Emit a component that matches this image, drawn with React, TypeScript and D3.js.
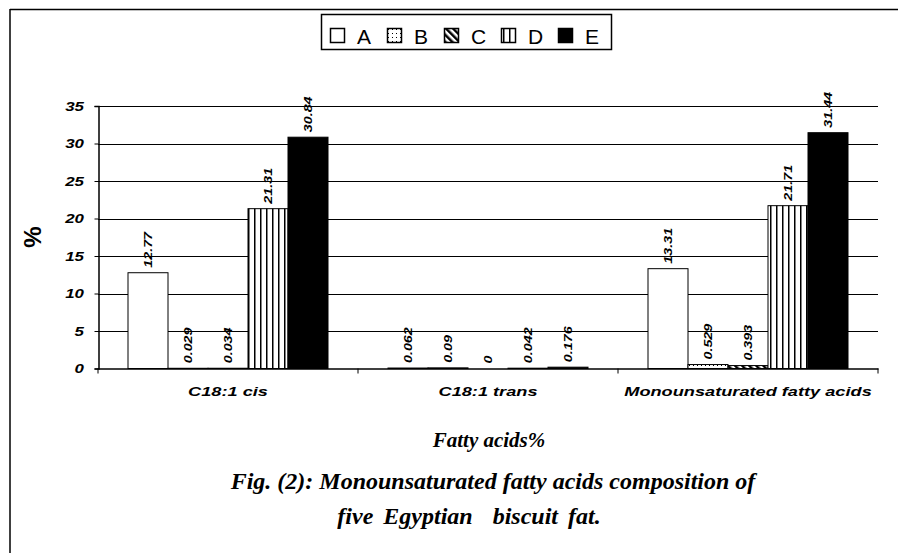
import React, { useEffect, useRef } from "react";
import * as d3 from "d3";

const categories = ["C18:1 cis", "C18:1 trans", "Monounsaturated fatty acids"];
const seriesNames = ["A", "B", "C", "D", "E"];
const valuesA = [12.77, 0.062, 13.31];
const valuesB = [0.029, 0.09, 0.529];
const valuesC = [0.034, 0, 0.393];
const valuesD = [21.31, 0.042, 21.71];
const valuesE = [30.84, 0.176, 31.44];
const labelsA = ["12.77", "0.062", "13.31"];
const labelsB = ["0.029", "0.09", "0.529"];
const labelsC = ["0.034", "0", "0.393"];
const labelsD = ["21.31", "0.042", "21.71"];
const labelsE = ["30.84", "0.176", "31.44"];
const yTicks = [0, 5, 10, 15, 20, 25, 30, 35];

const fills = ["#fff", "url(#patB)", "url(#patC)", "url(#patD)", "#000"];
const sans = "Arial, 'Liberation Sans', sans-serif";
const serif = "'Times New Roman', 'Liberation Serif', serif";

export default function App() {
  const ref = useRef<SVGSVGElement>(null);

  useEffect(() => {
    if (!ref.current) return;
    const svg = d3.select(ref.current);
    svg.selectAll("*").remove();

    const allValues = [valuesA, valuesB, valuesC, valuesD, valuesE];
    const allLabels = [labelsA, labelsB, labelsC, labelsD, labelsE];

    const defs = svg.append("defs");
    const pB = defs
      .append("pattern")
      .attr("id", "patB")
      .attr("width", 4)
      .attr("height", 4)
      .attr("patternUnits", "userSpaceOnUse");
    pB.append("rect").attr("width", 4).attr("height", 4).attr("fill", "#fff");
    pB.append("rect").attr("x", 1).attr("y", 1).attr("width", 1).attr("height", 1).attr("fill", "#000");
    const pC = defs
      .append("pattern")
      .attr("id", "patC")
      .attr("width", 5)
      .attr("height", 5)
      .attr("patternUnits", "userSpaceOnUse")
      .attr("patternTransform", "rotate(-45)");
    pC.append("rect").attr("width", 5).attr("height", 5).attr("fill", "#fff");
    pC.append("rect").attr("width", 2.5).attr("height", 5).attr("fill", "#000");
    const pD = defs
      .append("pattern")
      .attr("id", "patD")
      .attr("width", 6)
      .attr("height", 6)
      .attr("patternUnits", "userSpaceOnUse");
    pD.append("rect").attr("width", 6).attr("height", 6).attr("fill", "#fff");
    pD.append("rect").attr("x", 2).attr("width", 1.5).attr("height", 6).attr("fill", "#000");

    // frame
    svg.append("line").attr("x1", 10).attr("x2", 898).attr("y1", 9.5).attr("y2", 9.5).attr("stroke", "#000").attr("stroke-width", 1.5);
    svg.append("line").attr("x1", 10).attr("x2", 10).attr("y1", 9).attr("y2", 553).attr("stroke", "#000").attr("stroke-width", 1.5);

    const x0 = d3.scaleBand().domain(categories).range([98, 878]);
    const x1 = d3.scaleBand().domain(seriesNames).range([0, x0.bandwidth()]).paddingOuter(0.75);
    const y = d3.scaleLinear().domain([0, 35]).range([368.5, 106]);

    // gridlines
    svg
      .append("g")
      .selectAll("line")
      .data(yTicks.slice(1))
      .enter()
      .append("line")
      .attr("x1", 98)
      .attr("x2", 878)
      .attr("y1", (d) => Math.round(y(d)) + 0.5)
      .attr("y2", (d) => Math.round(y(d)) + 0.5)
      .attr("stroke", "#000");

    // y axis
    const yAxis = svg
      .append("g")
      .attr("transform", "translate(98.5,0)")
      .call(d3.axisLeft(y).tickValues(yTicks).tickSize(4).tickFormat(() => ""));
    yAxis.select(".domain").attr("stroke", "#000").attr("stroke-width", 1.5);
    svg
      .append("g")
      .selectAll("text")
      .data(yTicks)
      .enter()
      .append("text")
      .attr("transform", (d) => `translate(84,${y(d)}) scale(1.3,1)`)
      .attr("dy", "0.35em")
      .attr("text-anchor", "end")
      .attr("font-family", sans)
      .attr("font-size", 13)
      .attr("font-weight", "bold")
      .attr("font-style", "italic")
      .text((d) => d);

    // x axis
    const xAxis = svg
      .append("g")
      .attr("transform", `translate(0,${y(0)})`)
      .call(d3.axisBottom(x0).tickSize(0).tickFormat(() => ""));
    xAxis.select(".domain").attr("stroke", "#000").attr("stroke-width", 1.5);
    xAxis
      .selectAll(".sep")
      .data([...categories.map((c) => x0(c) as number), 878])
      .enter()
      .append("line")
      .attr("x1", (d) => d)
      .attr("x2", (d) => d)
      .attr("y1", 0)
      .attr("y2", 5)
      .attr("stroke", "#000");
    svg
      .append("g")
      .selectAll("text")
      .data(categories)
      .enter()
      .append("text")
      .attr("transform", (d) => `translate(${(x0(d) as number) + x0.bandwidth() / 2},396) scale(1.4,1)`)
      .attr("text-anchor", "middle")
      .attr("font-family", sans)
      .attr("font-size", 13)
      .attr("font-weight", "bold")
      .attr("font-style", "italic")
      .text((d) => d);

    // bars
    const groups = svg
      .append("g")
      .selectAll("g")
      .data(seriesNames)
      .enter()
      .append("g");
    groups
      .selectAll("rect")
      .data((s, i) => categories.map((c, j) => ({ c, s, v: allValues[i][j], i })))
      .enter()
      .append("rect")
      .attr("x", (d) => (x0(d.c) as number) + (x1(d.s) as number))
      .attr("y", (d) => y(d.v))
      .attr("width", x1.bandwidth())
      .attr("height", (d) => y(0) - y(d.v))
      .attr("fill", (d) => fills[d.i])
      .attr("stroke", "#000")
      .attr("stroke-width", 1);

    groups
      .selectAll("text")
      .data((s, i) => categories.map((c, j) => ({ c, s, v: allValues[i][j], t: allLabels[i][j] })))
      .enter()
      .append("text")
      .attr(
        "transform",
        (d) =>
          `translate(${(x0(d.c) as number) + (x1(d.s) as number) + x1.bandwidth() / 2},${y(d.v) - 5}) rotate(-90) scale(1.3,1)`
      )
      .attr("dy", "0.35em")
      .attr("font-family", sans)
      .attr("font-size", 11)
      .attr("font-weight", "bold")
      .attr("font-style", "italic")
      .text((d) => d.t);

    // y title
    svg
      .append("text")
      .attr("transform", "translate(33,237) rotate(-90)")
      .attr("text-anchor", "middle")
      .attr("dy", "0.35em")
      .attr("font-family", sans)
      .attr("font-size", 24)
      .attr("font-weight", "bold")
      .text("%");

    // legend
    const lg = svg.append("g");
    lg.append("rect").attr("x", 321.5).attr("y", 14.5).attr("width", 290).attr("height", 35).attr("fill", "#fff").attr("stroke", "#000").attr("stroke-width", 1.5);
    const items = lg
      .selectAll("g")
      .data(seriesNames)
      .enter()
      .append("g")
      .attr("transform", (d, i) => `translate(${330 + i * 57},0)`);
    items
      .append("rect")
      .attr("x", 0.5)
      .attr("y", 28.5)
      .attr("width", 14)
      .attr("height", 14)
      .attr("fill", (d, i) => fills[i])
      .attr("stroke", "#000")
      .attr("stroke-width", 1.5);
    items
      .append("text")
      .attr("x", 27)
      .attr("y", 44)
      .attr("font-family", sans)
      .attr("font-size", 21)
      .text((d) => d);

    // titles
    const caps = [
      { t: "Fatty acids%", x: 489, y: 447, s: 21, w: 0 },
      { t: "Fig. (2): Monounsaturated fatty acids composition of", x: 493, y: 489, s: 24, w: 0 },
      { t: "five Egyptian\u00a0 biscuit fat.", x: 469, y: 524, s: 24, w: 4 },
    ];
    svg
      .append("g")
      .selectAll("text")
      .data(caps)
      .enter()
      .append("text")
      .attr("x", (d) => d.x)
      .attr("y", (d) => d.y)
      .attr("text-anchor", "middle")
      .attr("font-family", serif)
      .attr("font-size", (d) => d.s)
      .attr("font-weight", "bold")
      .attr("font-style", "italic")
      .attr("word-spacing", (d) => d.w)
      .text((d) => d.t);
  }, []);

  return (
    <svg
      ref={ref}
      width={898}
      height={553}
      style={{ position: "absolute", left: 0, top: 0, background: "#fff" }}
    />
  );
}
